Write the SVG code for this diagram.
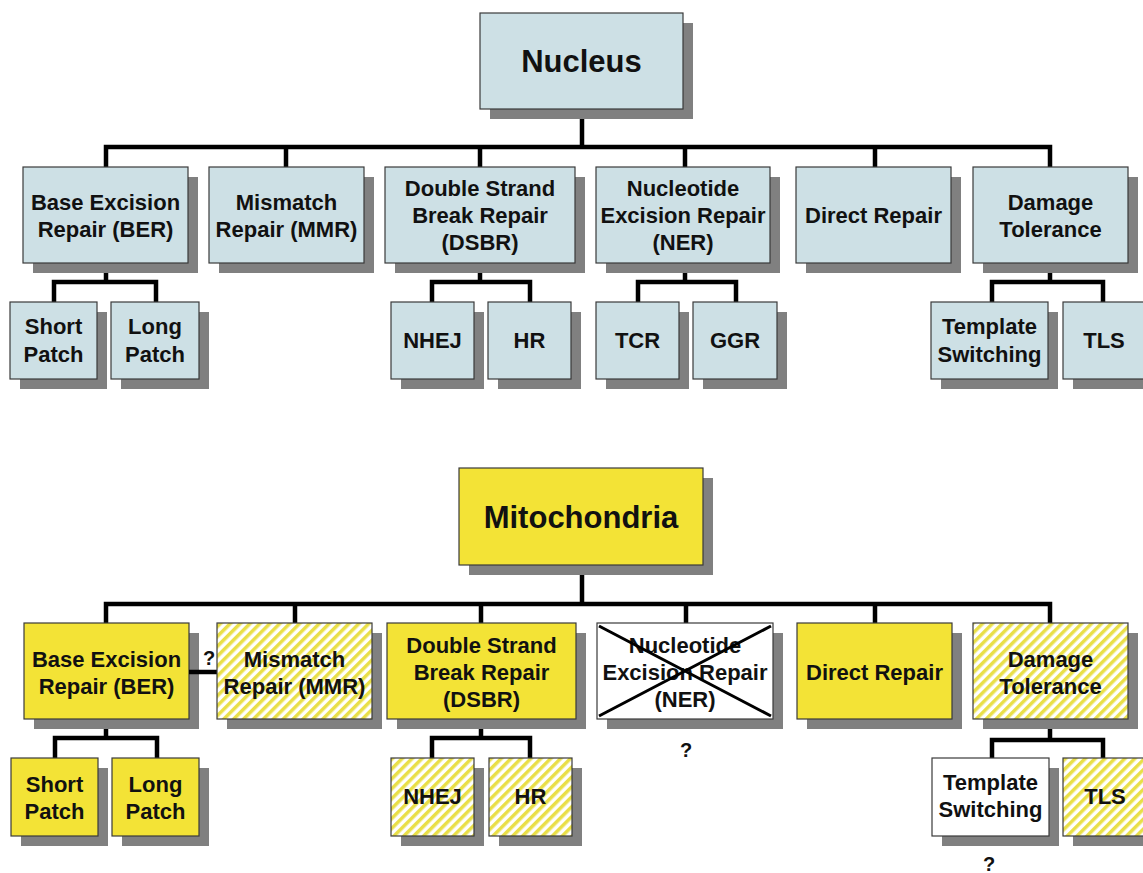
<svg xmlns="http://www.w3.org/2000/svg" width="1143" height="873" viewBox="0 0 1143 873">
<style>
text{font-family:"Liberation Sans",Arial,sans-serif;font-weight:bold;fill:#111;text-anchor:middle;font-size:22px}
.big{font-size:31px}
.q{font-size:20px}
.sh{fill:#808080}
.b{fill:#cde0e5;stroke:#3a3a3a;stroke-width:1.2}
.y{fill:#f3e336;stroke:#3a3a3a;stroke-width:1.2}
.h{fill:url(#hatch);stroke:#3a3a3a;stroke-width:1.2}
.w{fill:#fff;stroke:#3a3a3a;stroke-width:1.2}
.c{fill:none;stroke:#000;stroke-width:4.5;stroke-linejoin:miter}
</style>
<defs>
<pattern id="hatch" patternUnits="userSpaceOnUse" width="7" height="7" patternTransform="rotate(45)">
<rect width="7" height="7" fill="#fff"/>
<rect width="3.5" height="7" fill="#e9df48"/>
</pattern>
</defs>
<rect width="1143" height="873" fill="#fff"/>

<g id="connectors">
<path class="c" d="M582 109V147M106 167V147H1050V167M286 147V167M480 147V167M685 147V167M875 147V167"/>
<path class="c" d="M106 263V282M54 302V282H156V302"/>
<path class="c" d="M480 263V282M432 302V282H530V302"/>
<path class="c" d="M685 263V282M638 302V282H736V302"/>
<path class="c" d="M1050 263V282M992 302V282H1103V302"/>
<path class="c" d="M582 565V604M106 623V604H1050V623M295 604V623M481 604V623M686 604V623M875 604V623"/>
<path class="c" d="M106 719V738M55 758V738H157V758"/>
<path class="c" d="M481 719V738M432 758V738H530V758"/>
<path class="c" d="M1050 719V740M992 758V740H1103V758"/>
</g>

<g id="nucleus"><rect class="sh" x="490" y="23" width="203" height="96"/><rect class="b" x="480" y="13" width="203" height="96"/><text class="big" x="581.5" y="72">Nucleus</text></g>
<g id="n-ber"><rect class="sh" x="33" y="177" width="165" height="96"/><rect class="b" x="23" y="167" width="165" height="96"/><text x="105.5" y="210">Base Excision</text><text x="105.5" y="237">Repair (BER)</text></g>
<g id="n-mmr"><rect class="sh" x="219" y="177" width="155" height="96"/><rect class="b" x="209" y="167" width="155" height="96"/><text x="286.5" y="210">Mismatch</text><text x="286.5" y="237">Repair (MMR)</text></g>
<g id="n-dsbr"><rect class="sh" x="395" y="177" width="190" height="96"/><rect class="b" x="385" y="167" width="190" height="96"/><text x="480" y="196">Double Strand</text><text x="480" y="223">Break Repair</text><text x="480" y="250">(DSBR)</text></g>
<g id="n-ner"><rect class="sh" x="606" y="177" width="174" height="96"/><rect class="b" x="596" y="167" width="174" height="96"/><text x="683" y="196">Nucleotide</text><text x="683" y="223">Excision Repair</text><text x="683" y="250">(NER)</text></g>
<g id="n-direct"><rect class="sh" x="806" y="177" width="155" height="96"/><rect class="b" x="796" y="167" width="155" height="96"/><text x="873.5" y="223">Direct Repair</text></g>
<g id="n-dt"><rect class="sh" x="983" y="177" width="155" height="96"/><rect class="b" x="973" y="167" width="155" height="96"/><text x="1050.5" y="210">Damage</text><text x="1050.5" y="237">Tolerance</text></g>
<g id="n-short"><rect class="sh" x="20" y="312" width="87" height="77"/><rect class="b" x="10" y="302" width="87" height="77"/><text x="53.5" y="334">Short</text><text x="53.5" y="362">Patch</text></g>
<g id="n-long"><rect class="sh" x="121" y="312" width="88" height="77"/><rect class="b" x="111" y="302" width="88" height="77"/><text x="155" y="334">Long</text><text x="155" y="362">Patch</text></g>
<g id="n-nhej"><rect class="sh" x="401" y="312" width="83" height="77"/><rect class="b" x="391" y="302" width="83" height="77"/><text x="432.5" y="348">NHEJ</text></g>
<g id="n-hr"><rect class="sh" x="498" y="312" width="83" height="77"/><rect class="b" x="488" y="302" width="83" height="77"/><text x="529.5" y="348">HR</text></g>
<g id="n-tcr"><rect class="sh" x="606" y="312" width="83" height="77"/><rect class="b" x="596" y="302" width="83" height="77"/><text x="637.5" y="348">TCR</text></g>
<g id="n-ggr"><rect class="sh" x="703" y="312" width="84" height="77"/><rect class="b" x="693" y="302" width="84" height="77"/><text x="735" y="348">GGR</text></g>
<g id="n-ts"><rect class="sh" x="941" y="312" width="117" height="77"/><rect class="b" x="931" y="302" width="117" height="77"/><text x="989.5" y="334">Template</text><text x="989.5" y="362">Switching</text></g>
<g id="n-tls"><rect class="sh" x="1073" y="312" width="82" height="77"/><rect class="b" x="1063" y="302" width="82" height="77"/><text x="1104" y="348">TLS</text></g>

<g id="mito"><rect class="sh" x="469" y="478" width="244" height="97"/><rect class="y" x="459" y="468" width="244" height="97"/><text class="big" x="581" y="528">Mitochondria</text></g>
<g id="m-ber"><rect class="sh" x="34" y="633" width="165" height="96"/><rect class="y" x="24" y="623" width="165" height="96"/><text x="106.5" y="667">Base Excision</text><text x="106.5" y="694">Repair (BER)</text></g>
<g id="m-link"><path class="c" d="M189 672H217"/><text class="q" x="209" y="665">?</text></g>
<g id="m-mmr"><rect class="sh" x="227" y="633" width="155" height="96"/><rect class="h" x="217" y="623" width="155" height="96"/><text x="294.5" y="667">Mismatch</text><text x="294.5" y="694">Repair (MMR)</text></g>
<g id="m-dsbr"><rect class="sh" x="397" y="633" width="189" height="96"/><rect class="y" x="387" y="623" width="189" height="96"/><text x="481.5" y="653">Double Strand</text><text x="481.5" y="680">Break Repair</text><text x="481.5" y="707">(DSBR)</text></g>
<g id="m-ner"><rect class="sh" x="607" y="633" width="176" height="96"/><rect class="w" x="597" y="623" width="176" height="96"/><text x="685" y="653">Nucleotide</text><text x="685" y="680">Excision Repair</text><text x="685" y="707">(NER)</text><path d="M599 626L771 716M599 716L771 626" stroke="#000" stroke-width="3" fill="none"/><text class="q" x="686" y="757">?</text></g>
<g id="m-direct"><rect class="sh" x="807" y="633" width="155" height="96"/><rect class="y" x="797" y="623" width="155" height="96"/><text x="874.5" y="680">Direct Repair</text></g>
<g id="m-dt"><rect class="sh" x="983" y="633" width="155" height="96"/><rect class="h" x="973" y="623" width="155" height="96"/><text x="1050.5" y="667">Damage</text><text x="1050.5" y="694">Tolerance</text></g>
<g id="m-short"><rect class="sh" x="21" y="768" width="87" height="78"/><rect class="y" x="11" y="758" width="87" height="78"/><text x="54.5" y="792">Short</text><text x="54.5" y="819">Patch</text></g>
<g id="m-long"><rect class="sh" x="122" y="768" width="87" height="78"/><rect class="y" x="112" y="758" width="87" height="78"/><text x="155.5" y="792">Long</text><text x="155.5" y="819">Patch</text></g>
<g id="m-nhej"><rect class="sh" x="401" y="768" width="83" height="78"/><rect class="h" x="391" y="758" width="83" height="78"/><text x="432.5" y="804">NHEJ</text></g>
<g id="m-hr"><rect class="sh" x="499" y="768" width="83" height="78"/><rect class="h" x="489" y="758" width="83" height="78"/><text x="530.5" y="804">HR</text></g>
<g id="m-ts"><rect class="sh" x="942" y="768" width="117" height="78"/><rect class="w" x="932" y="758" width="117" height="78"/><text x="990.5" y="790">Template</text><text x="990.5" y="817">Switching</text><text class="q" x="989" y="871">?</text></g>
<g id="m-tls"><rect class="sh" x="1073" y="768" width="85" height="78"/><rect class="h" x="1063" y="758" width="85" height="78"/><text x="1105" y="804">TLS</text></g>
</svg>
